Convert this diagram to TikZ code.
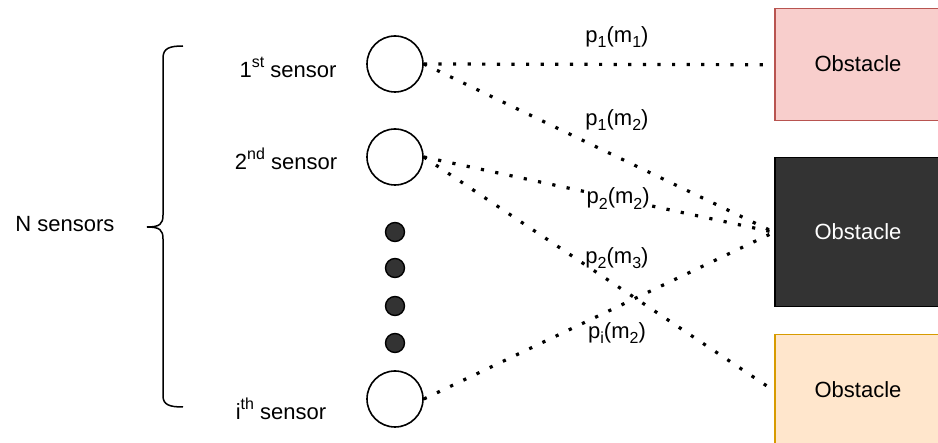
\documentclass[tikz,border=0pt]{standalone}
\usepackage{fontspec}
\setmainfont{Liberation Sans}
\definecolor{redfill}{HTML}{F8CECC}
\definecolor{redline}{HTML}{B85450}
\definecolor{darkfill}{HTML}{333333}
\definecolor{orfill}{HTML}{FFE6CC}
\definecolor{orline}{HTML}{D79B00}
\newcommand{\mysup}[1]{\raisebox{0.45em}{\fontsize{16}{18}\selectfont #1}}
\newcommand{\mysub}[1]{\raisebox{-0.25em}{\fontsize{16}{18}\selectfont #1}}
\begin{document}
\begin{tikzpicture}[x=1pt,y=-1pt,
  every node/.style={font=\fontsize{22}{26}\selectfont},
  sensor/.style={circle,draw=black,line width=1.6pt,minimum size=56pt,inner sep=0pt},
  dotnode/.style={circle,draw=black,fill=darkfill,line width=1.4pt,minimum size=19pt,inner sep=0pt},
  obst/.style={rectangle,line width=1.5pt,minimum width=172pt,inner sep=0pt},
  link/.style={line width=3.2pt,dash pattern=on 3.2pt off 11.4pt,line cap=butt},
  lbl/.style={inner sep=1pt}]
\useasboundingbox (0,0) rectangle (938,443);
% sensors
\node[sensor] (s1) at (395,64) {};
\node[sensor] (s2) at (395,157) {};
\node[sensor] (si) at (395,399) {};
\node[dotnode] (d1) at (395,232) {};
\node[dotnode] (d2) at (395,268) {};
\node[dotnode] (d3) at (395,306) {};
\node[dotnode] (d4) at (395,343) {};
% sensor labels
\node (l1) at (288,67) {1\mysup{st} sensor};
\node (l2) at (286,159) {2\mysup{nd} sensor};
\node (li) at (281,409) {i\mysup{th} sensor};
\node (ns) at (65,224) {N sensors};
% brace
\coordinate (btop) at (183,46);
\coordinate (btip) at (147,227);
\coordinate (bbot) at (183,407);
\draw[line width=1.5pt] (btop) .. controls (170,46) and (163,48) .. (163,58) -- (163,215)
  .. controls (163,224) and (160,227) .. (btip)
  .. controls (160,227) and (163,230) .. (163,239) -- (163,396)
  .. controls (163,405) and (170,407) .. (bbot);
% obstacles
\node[obst,fill=redfill,draw=redline,minimum height=112pt,anchor=north west] (o1) at (774,8) {};
\node at (858,64) {Obstacle};
\node[obst,fill=darkfill,draw=black,minimum height=149pt,anchor=north west] (o2) at (774,157) {};
\node[text=white] at (858,232) {Obstacle};
\node[obst,fill=orfill,draw=orline,minimum height=112pt,anchor=north west] (o3) at (774,334) {};
\node at (858,390) {Obstacle};
% links
\draw[link] (s1.east) -- (o1.west);
\draw[link] (s1.east) -- (o2.west);
\draw[link] (s2.east) -- (o2.west) node[pos=0.555,fill=white,lbl] (t3) {p\mysub{2}(m\mysub{2})};
\draw[link] (s2.east) -- (o3.west);
\draw[link] (si.east) -- (o2.west);
% free labels
\node[lbl] (t1) at (617,37) {p\mysub{1}(m\mysub{1})};
\node[lbl] (t2) at (617,120) {p\mysub{1}(m\mysub{2})};
\node[lbl] (t4) at (617,258) {p\mysub{2}(m\mysub{3})};
\node[lbl] (t5) at (617,333) {p\mysub{i}(m\mysub{2})};
\end{tikzpicture}
\end{document}
